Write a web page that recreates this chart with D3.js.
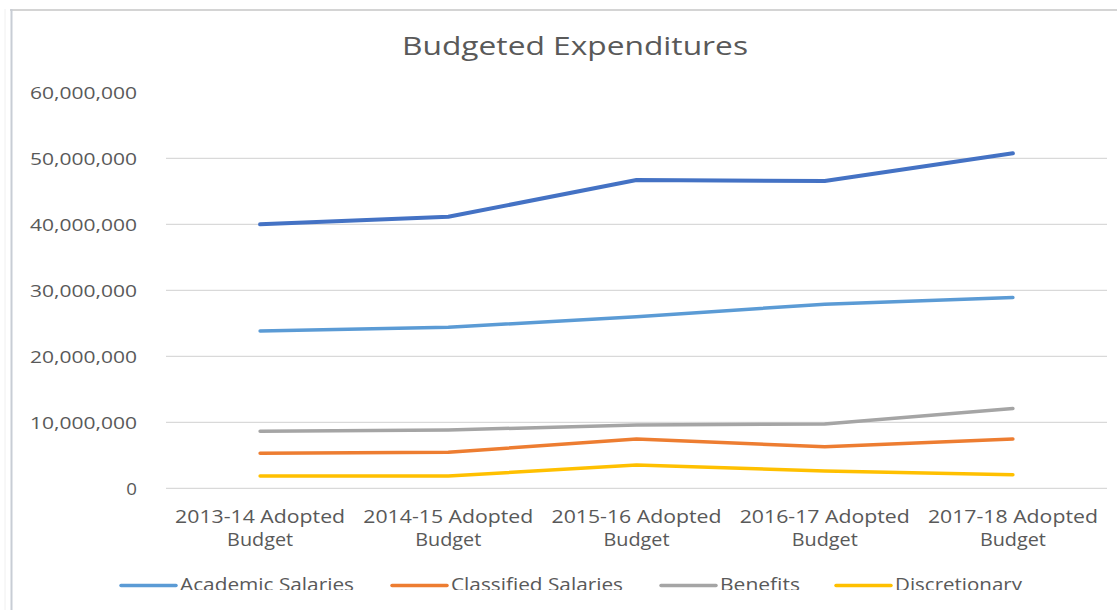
<!DOCTYPE html>
<html><head><meta charset="utf-8">
<script src="https://cdn.jsdelivr.net/npm/d3@7"></script>
<style>html,body{margin:0;padding:0;background:#fff;}svg{display:block;}</style>
</head><body>
<svg id="chart" width="1117" height="610"></svg>
<script>
const categories = ["2013-14 Adopted Budget","2014-15 Adopted Budget","2015-16 Adopted Budget","2016-17 Adopted Budget","2017-18 Adopted Budget"];
const totalValues = [40000000, 41150000, 46700000, 46550000, 50750000];
const academicSalaries = [23830000, 24400000, 26000000, 27900000, 28900000];
const classifiedSalaries = [5300000, 5450000, 7470000, 6300000, 7470000];
const benefits = [8640000, 8830000, 9600000, 9740000, 12100000];
const discretionary = [1860000, 1860000, 3530000, 2620000, 2060000];
const yTicks = [0, 10000000, 20000000, 30000000, 40000000, 50000000, 60000000];
const seriesNames = ["Total", "Academic Salaries", "Classified Salaries", "Benefits", "Discretionary"];

const series = [
  {name: seriesNames[0], values: totalValues, color: "#4472c4", legend: false, w: 4},
  {name: seriesNames[1], values: academicSalaries, color: "#5b9bd5", legend: true, w: 3.5},
  {name: seriesNames[2], values: classifiedSalaries, color: "#ed7d31", legend: true, w: 3.5},
  {name: seriesNames[3], values: benefits, color: "#a5a5a5", legend: true, w: 3.5},
  {name: seriesNames[4], values: discretionary, color: "#ffc000", legend: true, w: 3.5}
];

const svg = d3.select("#chart");
const textColor = "#595959";

// frame
svg.append("line").attr("x1",10).attr("x2",1117).attr("y1",10).attr("y2",10).attr("stroke","#d4d4d4").attr("stroke-width",2);
svg.append("line").attr("x1",11.5).attr("x2",11.5).attr("y1",9).attr("y2",610).attr("stroke","#c8cdd5").attr("stroke-width",2);
svg.append("line").attr("x1",5).attr("x2",5).attr("y1",9).attr("y2",610).attr("stroke","#f0f0f0").attr("stroke-width",1);

// title
svg.append("text").attr("x",575).attr("y",55).attr("text-anchor","middle")
  .attr("font-family","Open Sans").attr("font-size",26).attr("fill",textColor)
  .attr("textLength",346).attr("lengthAdjust","spacingAndGlyphs")
  .text("Budgeted Expenditures");

const x = d3.scaleBand().domain(categories).range([166, 1107]);
const y = d3.scaleLinear().domain([0, 60000000]).range([488.3, 92.3]);

// gridlines
svg.append("g").selectAll("line").data(yTicks.slice(0)).join("line")
  .attr("x1",166).attr("x2",1107)
  .attr("y1",d=>y(d)).attr("y2",d=>y(d))
  .attr("stroke",d=> d===60000000 ? "none" : "#d9d9d9").attr("stroke-width",1.3);

// y axis labels
const yAxis = d3.axisLeft(y).tickValues(yTicks).tickSize(0).tickPadding(0)
  .tickFormat(d3.format(","));
const gy = svg.append("g").attr("transform","translate(137,0)").call(yAxis);
gy.select(".domain").remove();
gy.selectAll("text").attr("font-family","Open Sans").attr("font-size",16.5).attr("fill",textColor)
  .attr("dy","0.36em").attr("x",0)
  .each(function(d){ const s=d3.format(",")(d); d3.select(this).attr("textLength", s.length*107/10).attr("lengthAdjust","spacingAndGlyphs"); });

// x axis labels
const xAxis = d3.axisBottom(x).tickSize(0).tickPadding(0);
const gx = svg.append("g").attr("transform","translate(0,0)").call(xAxis);
gx.select(".domain").remove();
gx.selectAll(".tick text").each(function(d){
  const t = d3.select(this);
  t.text(null).attr("y",0).attr("dy",null);
  const parts = d.split(" ");
  const l1 = parts.slice(0,2).join(" "), l2 = parts.slice(2).join(" ");
  t.append("tspan").attr("x",0).attr("y",522.5).attr("textLength",170).attr("lengthAdjust","spacingAndGlyphs").text(l1);
  t.append("tspan").attr("x",0).attr("y",546).attr("textLength",66).attr("lengthAdjust","spacingAndGlyphs").text(l2);
}).attr("font-family","Open Sans").attr("font-size",17.5).attr("fill",textColor).attr("text-anchor","middle");

// lines
const line = d3.line().x((d,i)=>x(categories[i]) + x.bandwidth()/2).y(d=>y(d));
svg.append("g").selectAll("path").data(series).join("path")
  .attr("d",d=>line(d.values)).attr("fill","none")
  .attr("stroke",d=>d.color).attr("stroke-width",d=>d.w)
  .attr("stroke-linecap","round").attr("stroke-linejoin","round");

// legend
svg.append("clipPath").attr("id","legclip").append("rect").attr("x",0).attr("y",560).attr("width",1117).attr("height",30);
const legendData = series.filter(s=>s.legend);
const legX = [121, 392, 661, 836];
const legW = [174, 172, 80, 127];
const lg = svg.append("g").attr("clip-path","url(#legclip)");
legendData.forEach((s,i)=>{
  lg.append("line").attr("x1",legX[i]).attr("x2",legX[i]+55).attr("y1",585.5).attr("y2",585.5)
    .attr("stroke",s.color).attr("stroke-width",3.5).attr("stroke-linecap","round");
  lg.append("text").attr("x",legX[i]+59).attr("y",590.5)
    .attr("font-family","Open Sans").attr("font-size",17.5).attr("fill",textColor)
    .attr("textLength",legW[i]).attr("lengthAdjust","spacingAndGlyphs").text(s.name);
});
</script>
</body></html>
